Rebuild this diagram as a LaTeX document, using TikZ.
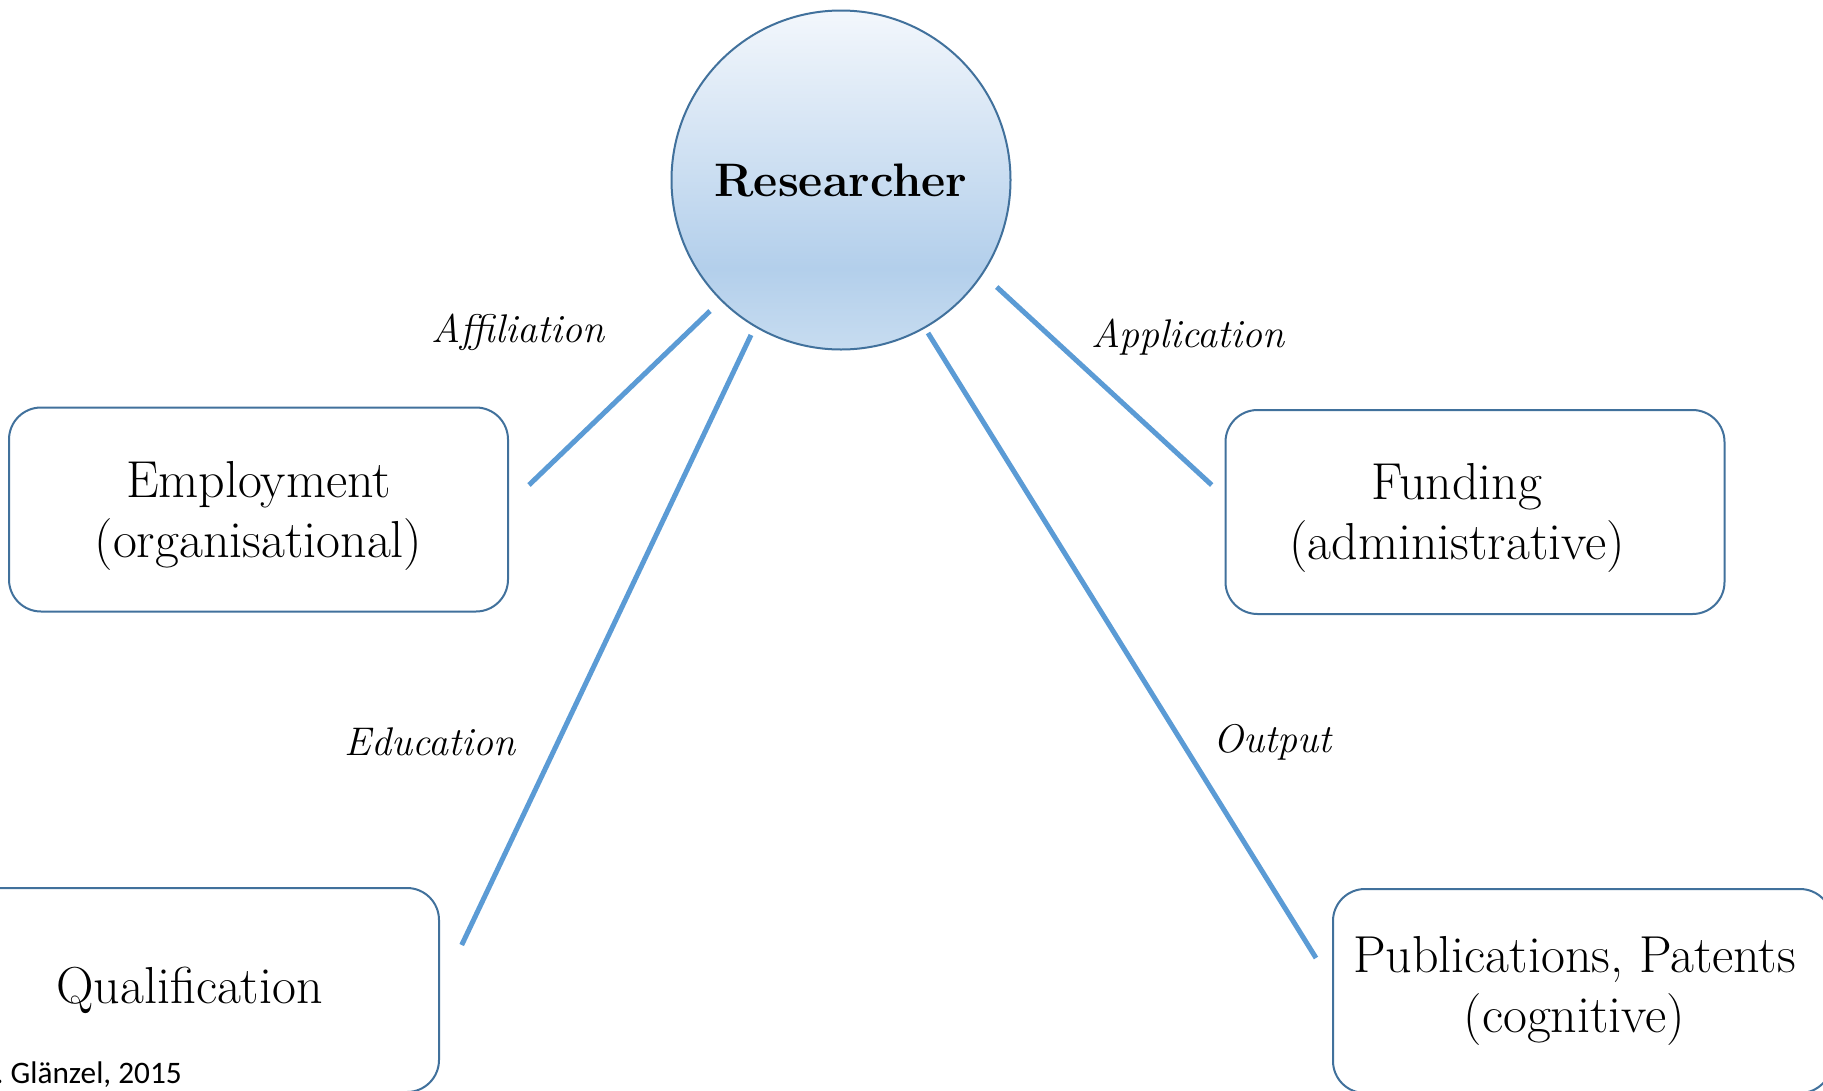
\documentclass[tikz,border=0pt]{standalone}
\usepackage{fontspec}
\newfontfamily\calib{Carlito}
\definecolor{linkblue}{HTML}{5B9BD5}
\definecolor{edgeblue}{HTML}{41719C}
\definecolor{rtop}{HTML}{F3F7FC}
\definecolor{rdark}{HTML}{B3CFEB}
\definecolor{rbot}{HTML}{C7DCF0}
\pgfdeclareverticalshading{resshade}{100bp}{color(0bp)=(rbot); color(25bp)=(rbot); color(37bp)=(rdark); color(75bp)=(rtop); color(100bp)=(rtop)}
\tikzset{
 boxnode/.style={draw=edgeblue, line width=2pt, rounded corners=32pt, minimum width=499pt, minimum height=204pt, align=center, font=\fontsize{52}{60}\selectfont, inner sep=0pt},
 linkline/.style={draw=linkblue, line width=5pt},
 linklabel/.style={font=\itshape\fontsize{40}{46}\selectfont, anchor=base, inner sep=0pt},
}
\begin{document}
\begin{tikzpicture}[x=1pt,y=-1pt]
\useasboundingbox (0,0) rectangle (1823,1090);
\fill[white] (0,0) rectangle (1823,1090);
\node[circle, draw=edgeblue, line width=2pt, shading=resshade, minimum size=339pt, inner sep=0pt, font=\bfseries\fontsize{47}{54}\selectfont] (res) at (841,180) {Researcher};
\node[boxnode, text height=108pt] (emp) at (258.5,509.5) {Employment\\(organisational)};
\node[boxnode, text height=108pt] (fund) at (1475,512) {Funding\rule{36pt}{0pt}\\(administrative)\rule{36pt}{0pt}};
\node[boxnode] (qual) at (189.5,990) {Qualification};
\node[boxnode] (pub) at (1582.5,991) {Publications, Patents\rule{16pt}{0pt}\\(cognitive)\rule{16pt}{0pt}};
\coordinate (a1) at (710,311); \coordinate (a2) at (529,485);
\coordinate (e1) at (751,335); \coordinate (e2) at (461.7,945);
\coordinate (p1) at (996.7,287); \coordinate (p2) at (1211.7,485);
\coordinate (o1) at (928,333); \coordinate (o2) at (1316,958);
\draw[linkline] (a1) -- (a2);
\draw[linkline] (e1) -- (e2);
\draw[linkline] (p1) -- (p2);
\draw[linkline] (o1) -- (o2);
\node[linklabel] (laff) at (518,342) {Affiliation};
\node[linklabel] (lapp) at (1188,347) {Application};
\node[linklabel] (ledu) at (430,755) {Education};
\node[linklabel] (lout) at (1272,752) {Output};
\node[font=\calib\fontsize{31.3}{36}\selectfont, anchor=base east, inner sep=0pt] (credit) at (182,1083) {W. Glänzel, 2015};
\end{tikzpicture}
\end{document}
